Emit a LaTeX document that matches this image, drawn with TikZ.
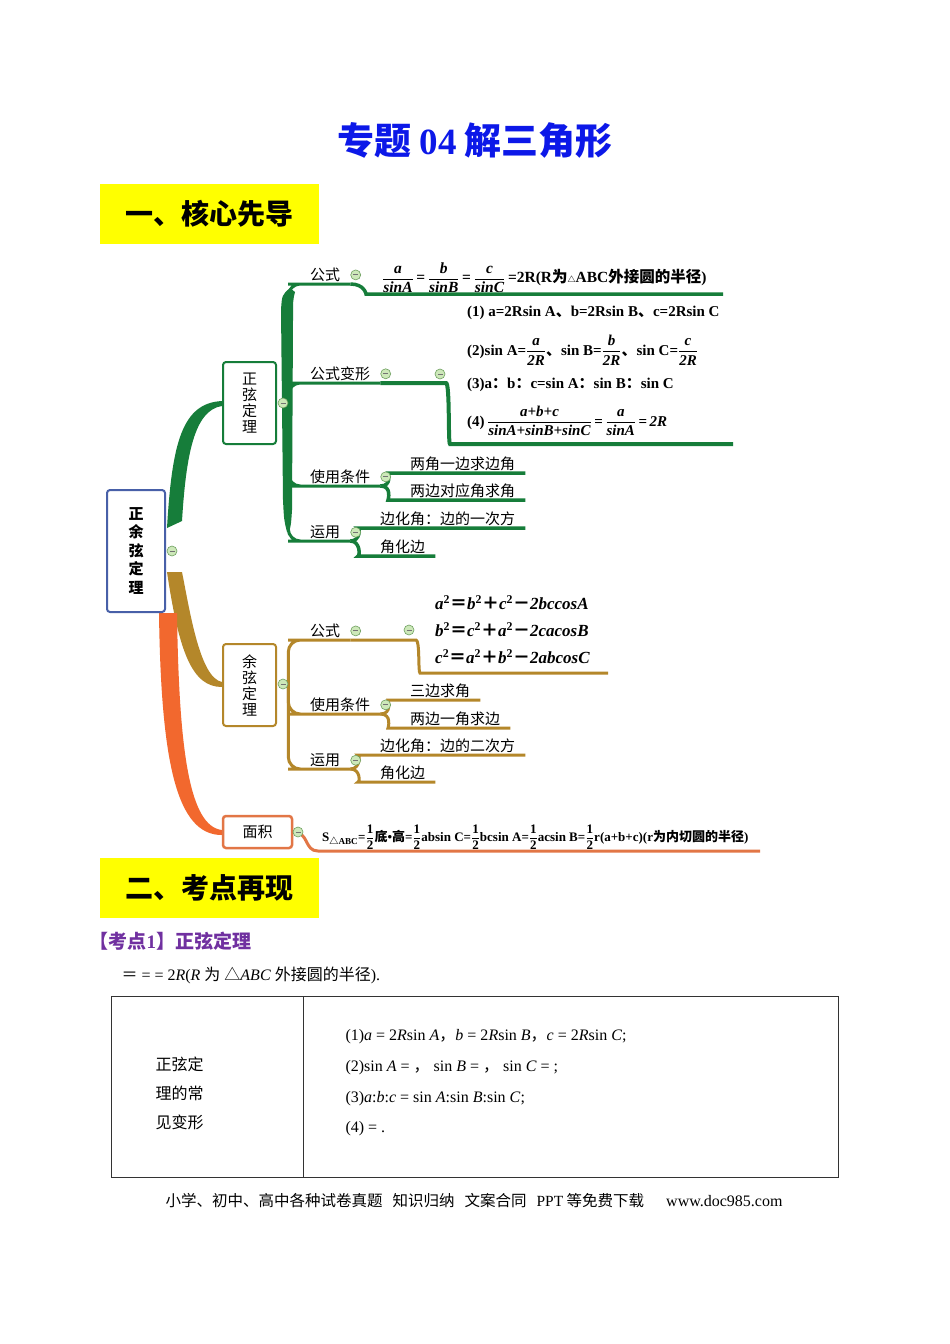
\documentclass[tikz,border=0pt]{standalone}
\usepackage{fontspec}
\usepackage{amsmath}
\usetikzlibrary{positioning}
\setmainfont{Liberation Serif}
\newfontfamily\cjk{Noto Sans CJK SC}
\newcommand{\zh}[1]{{\cjk #1}}
\newcommand{\bi}[1]{\textbf{\textit{#1}}}
\newcommand{\bfr}[2]{$\dfrac{\bi{#1}}{\bi{#2}}$}
\newcommand{\hf}{$\dfrac{\textbf{1}}{\textbf{2}}$}
\newcommand{\sq}{\textsuperscript{\textbf{2}}}

\definecolor{mmgreen}{RGB}{22,125,58}
\definecolor{mmbrown}{RGB}{180,135,42}
\definecolor{mmorange}{RGB}{242,104,46}
\definecolor{areabox}{RGB}{226,118,70}
\definecolor{rootblue}{RGB}{72,96,168}
\definecolor{titleblue}{RGB}{12,24,232}
\definecolor{hlyellow}{RGB}{255,255,0}
\definecolor{kdpurple}{RGB}{112,48,160}
\definecolor{foldgreen}{RGB}{205,232,185}
\definecolor{folddark}{RGB}{110,160,95}

\pgfdeclarelayer{paper}
\pgfdeclarelayer{links}
\pgfsetlayers{paper,links,main}

\begin{document}
\begin{tikzpicture}[x=1pt, y=-1pt,
  topic/.style={draw, rounded corners=3pt, line width=2pt, fill=white, align=center,
    inner sep=0pt, font=\cjk\fontsize{15}{16}\selectfont},
  lbl/.style={anchor=south west, inner xsep=10pt, inner ysep=2pt, font=\cjk\fontsize{15}{15}\selectfont},
  fml/.style={anchor=south west, inner xsep=4pt, inner ysep=1pt, font=\bfseries\fontsize{15}{17}\selectfont},
  fold/.style={circle, draw=folddark, fill=foldgreen, minimum size=10pt, inner sep=0pt, line width=0.6pt,
    path picture={\draw[black!55, line width=0.9pt] ([xshift=2.5pt]path picture bounding box.west)
      -- ([xshift=-2.5pt]path picture bounding box.east);}},
  hdbox/.style={fill=hlyellow, anchor=north west, minimum width=219, minimum height=60,
    font=\cjk\bfseries\fontsize{28}{28}\selectfont},
  gline/.style={draw=mmgreen, line width=3pt, rounded corners=12pt},
  bline/.style={draw=mmbrown, line width=3pt, rounded corners=12pt},
  oline/.style={draw=areabox, line width=3pt},
]

\useasboundingbox (0,0) rectangle (950,1344);
\begin{pgfonlayer}{paper}
  \fill[white] (0,0) rectangle (950,1344);
\end{pgfonlayer}

% -- Title and first header --
\node[font=\cjk\bfseries\fontsize{37}{40}\selectfont, text=titleblue] (title) at (475,140) {专题 {\rmfamily 04} 解三角形};
\node[hdbox] (hdA) at (100,184) {一、核心先导};

% -- Root and main topics --
\node[topic, draw=rootblue, minimum width=58, minimum height=122, font=\cjk\bfseries\fontsize{15}{18.5}\selectfont] (root) at (136,551) {正\\余\\弦\\定\\理};
\node[fold] (root-f) at (172,551) {};
\node[topic, draw=mmgreen, minimum width=53, minimum height=82] (sine) at (249.5,403) {正\\弦\\定\\理};
\node[fold] (sine-f) at (283,403) {};
\node[topic, draw=mmbrown, minimum width=53, minimum height=82] (cosine) at (249.5,685) {余\\弦\\定\\理};
\node[fold] (cos-f) at (283,684) {};
\node[topic, draw=areabox, line width=2.5pt, minimum width=69, minimum height=32] (area) at (257.5,832) {面积};
\node[fold] (area-f) at (298,832) {};

% -- Sine theorem branch --
\node[lbl] (sfml) at (300,284) {公式};
\node[fold, right=0pt of sfml] (sfml-f) {};
\node[fml, font=\bfseries\fontsize{15.5}{17}\selectfont] (sfmlx) at (378,294) {\bfr{a}{sinA}\,=\,\bfr{b}{sinB}\,=\,\bfr{c}{sinC}\,=2R(R\zh{为}{\fontsize{8}{8}\selectfont\zh{△}}ABC\zh{外接圆的半径})};
\coordinate (sfmlend) at (723,294);

\node[lbl] (sbian) at (300,383) {公式变形};
\node[fold, right=0pt of sbian] (sbian-f) {};
\node[fold] (sbian0-f) at (440,374) {};
\coordinate (sbian0) at (434,383);
\node[fml, anchor=west] (sbian1) at (463,313) {(1) a=2Rsin A\zh{、}b=2Rsin B\zh{、}c=2Rsin C};
\node[fml, anchor=west] (sbian2) at (463,350) {(2)sin A=\bfr{a}{2R}\zh{、}sin B=\bfr{b}{2R}\zh{、}sin C=\bfr{c}{2R}};
\node[fml, anchor=west] (sbian3) at (463,385) {(3)a\zh{：}b\zh{：}c=sin A\zh{：}sin B\zh{：}sin C};
\node[fml, anchor=west] (sbian4) at (463,421) {(4)\,\bfr{a+b+c}{sinA+sinB+sinC}\,=\,\bfr{a}{sinA}\,=\,\bi{2R}};
\coordinate (sbianx) at (462,444);
\coordinate (sbianend) at (733,444);

\node[lbl] (scond) at (300,486) {使用条件};
\node[fold, right=0pt of scond] (scond-f) {};
\node[lbl] (scond1) at (400,473) {两角一边求边角};
\node[lbl] (scond2) at (400,500) {两边对应角求角};

\node[lbl] (suse) at (300,541) {运用};
\node[fold, right=0pt of suse] (suse-f) {};
\node[lbl] (suse1) at (370,528) {边化角：边的一次方};
\node[lbl] (suse2) at (370,556) {角化边};

% -- Cosine theorem branch --
\node[lbl] (cfml) at (300,640) {公式};
\node[fold, right=0pt of cfml] (cfml-f) {};
\node[fold] (cfml0-f) at (409,630) {};
\coordinate (cfml0) at (404,640);
\node[anchor=west, inner sep=1pt, font=\bfseries\fontsize{17}{18}\selectfont] (cf1) at (434,603) {\bi{a}\sq\zh{＝}\bi{b}\sq\zh{＋}\bi{c}\sq\zh{－}\bi{2bccosA}};
\node[anchor=west, inner sep=1pt, font=\bfseries\fontsize{17}{18}\selectfont] (cf2) at (434,630) {\bi{b}\sq\zh{＝}\bi{c}\sq\zh{＋}\bi{a}\sq\zh{－}\bi{2cacosB}};
\node[anchor=west, inner sep=1pt, font=\bfseries\fontsize{17}{18}\selectfont] (cf3) at (434,657) {\bi{c}\sq\zh{＝}\bi{a}\sq\zh{＋}\bi{b}\sq\zh{－}\bi{2abcosC}};
\coordinate (cfmlx) at (432,673);
\coordinate (cfmlend) at (608,673);

\node[lbl] (ccond) at (300,714) {使用条件};
\node[fold, right=0pt of ccond] (ccond-f) {};
\node[lbl] (ccond1) at (400,700) {三边求角};
\node[lbl] (ccond2) at (400,728) {两边一角求边};

\node[lbl] (cuse) at (300,769) {运用};
\node[fold, right=0pt of cuse] (cuse-f) {};
\node[lbl] (cuse1) at (370,755) {边化角：边的二次方};
\node[lbl] (cuse2) at (370,782) {角化边};

% -- Area branch --
\node[fml, font=\bfseries\fontsize{13}{14}\selectfont] (areax) at (318,851) {S\textsubscript{\zh{△}ABC}=\hf\zh{底}\textbullet\zh{高}=\hf absin C=\hf bcsin A=\hf acsin B=\hf r(a+b+c)(r\zh{为内切圆的半径})};
\coordinate (areaend) at (760,851);

% -- Connectors --
\begin{pgfonlayer}{links}
  % main branches
  \fill[mmgreen] ([shift={(1,-23)}]root.east) .. controls +(5,-85) and +(-40,2) .. ([shift={(0,-2)}]sine.west)
    -- ([shift={(0,3)}]sine.west) .. controls +(-28,4) and +(4,-65) .. ([shift={(16,-30)}]root.east) -- cycle;
  \fill[mmbrown] ([shift={(1,21)}]root.east) .. controls +(12,80) and +(-30,0) .. ([shift={(0,2)}]cosine.west)
    -- ([shift={(0,-3)}]cosine.west) .. controls +(-22,-4) and +(8,40) .. ([shift={(16,21)}]root.east) -- cycle;
  \fill[mmorange] ([shift={(-7,0)}]root.south east) .. controls +(2,150) and +(-45,0) .. ([shift={(0,3)}]area.west)
    -- ([shift={(0,-2)}]area.west) .. controls +(-32,-4) and +(2,140) .. ([shift={(11,0)}]root.south east) -- cycle;

  % sine trunk
  \fill[mmgreen] (281,310) .. controls (282,295) .. (290,288) -- (295,292) .. controls (293,300) .. (293,320)
    -- (292,510) .. controls (291,525) .. (289,532) -- (287,532) .. controls (284,520) .. (283,500) -- cycle;
  \foreach \c in {sfml, sbian, scond, suse}
    \draw[gline] (sine-f.east) |- (\c.south west) -- (\c.south east);
  \draw[gline, line width=3.5pt] (sfml.south east) .. controls +(14,0) and +(-12,0) .. (sfmlx.south west) -- (sfmlend);
  \draw[gline, line width=4pt] (sbian.south east) -- (sbian0) .. controls +(16,0) and +(-14,0) .. (sbianx) -- (sbianend);
  \foreach \c in {scond1, scond2}
    \draw[gline, line width=3.5pt] (scond.south east) .. controls +(12,0) and +(-12,0) .. (\c.south west) -- (\c.south east);
  \foreach \c in {suse1, suse2}
    \draw[gline, line width=3.5pt] (suse.south east) .. controls +(10,0) and +(-10,0) .. (\c.south west) -- (\c.south east);

  % cosine trunk
  \foreach \c in {cfml, ccond, cuse}
    \draw[bline] (cos-f.east) |- (\c.south west) -- (\c.south east);
  \draw[bline] (cfml.south east) -- (cfml0) .. controls +(16,0) and +(-14,0) .. (cfmlx) -- (cfmlend);
  \foreach \c in {ccond1, ccond2}
    \draw[bline] (ccond.south east) .. controls +(12,0) and +(-12,0) .. (\c.south west) -- (\c.south east);
  \foreach \c in {cuse1, cuse2}
    \draw[bline] (cuse.south east) .. controls +(10,0) and +(-10,0) .. (\c.south west) -- (\c.south east);

  % area line
  \draw[oline] (area.east) .. controls +(16,0) and +(-14,0) .. (areax.south west) -- (areaend);
\end{pgfonlayer}

% -- Second header --
\node[hdbox] (hdB) at (100,858) {二、考点再现};
\node[anchor=west, text=kdpurple, font=\cjk\bfseries\fontsize{19}{19}\selectfont] (kd1) at (86,941) {【考点{\rmfamily 1}】正弦定理};
\node[anchor=west, font=\fontsize{16}{16}\selectfont] (law) at (118,975) {\zh{＝} = = 2\textit{R}(\textit{R} \zh{为} \zh{△}\textit{ABC} \zh{外接圆的半径}).};

% -- Table --
\draw[black!80, line width=0.8pt] (111,996) rectangle (838,1177);
\draw[black!80, line width=0.8pt] (303,996) -- (303,1177);
\node[anchor=west, align=left, font=\cjk\fontsize{16}{29}\selectfont] (tleft) at (152,1093) {正弦定\\理的常\\见变形};
\node[anchor=west, align=left, font=\fontsize{16}{30.7}\selectfont] (tright) at (342,1083) {(1)\textit{a} = 2\textit{R}sin \textit{A}\zh{，}\textit{b} = 2\textit{R}sin \textit{B}\zh{，}\textit{c} = 2\textit{R}sin \textit{C};\\(2)sin \textit{A} = \zh{，} sin \textit{B} = \zh{，} sin \textit{C} = ;\\(3)\textit{a}:\textit{b}:\textit{c} = sin \textit{A}:sin \textit{B}:sin \textit{C};\\(4) = .};

% -- Footer --
\node[anchor=west, font=\cjk\fontsize{15.5}{16}\selectfont] (foot) at (162,1201) {小学、初中、高中各种试卷真题\hspace{10pt}知识归纳\hspace{10pt}文案合同\hspace{10pt}{\rmfamily PPT} 等免费下载\hspace{22pt}{\rmfamily\fontsize{16}{16}\selectfont www.doc985.com}};

\end{tikzpicture}
\end{document}
